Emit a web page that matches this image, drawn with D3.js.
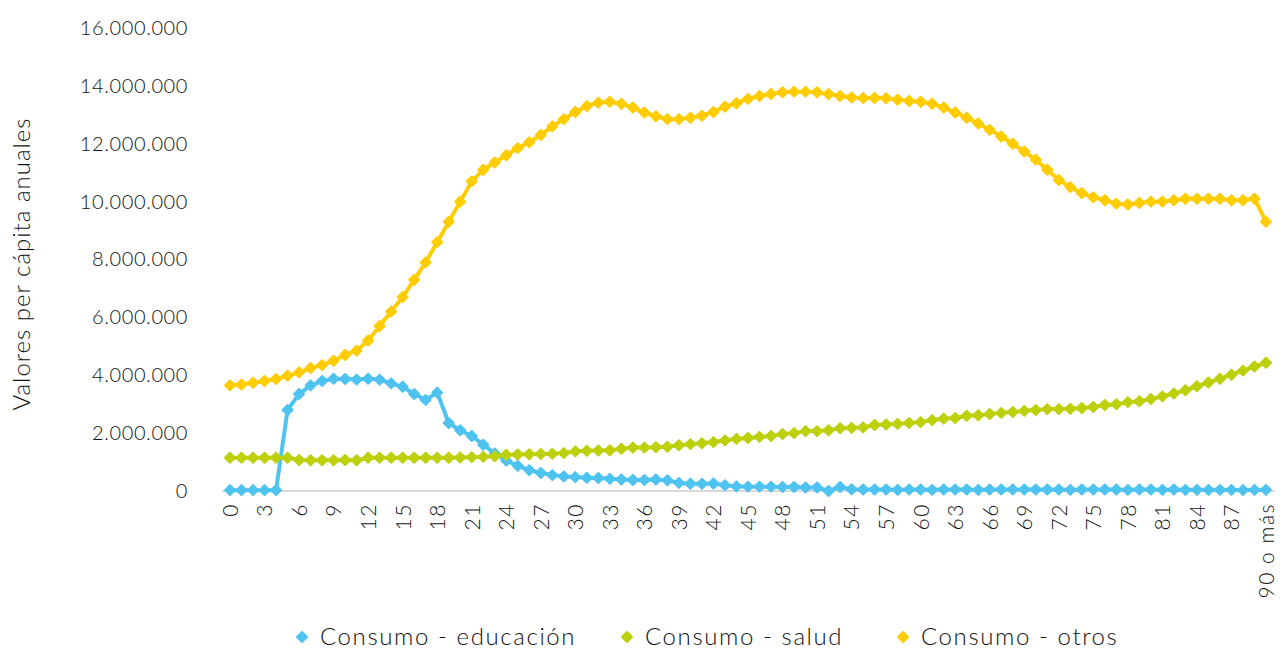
<!DOCTYPE html>
<html lang="es">
<head>
<meta charset="utf-8">
<script src="https://cdn.jsdelivr.net/npm/d3@7"></script>
<style>
  html, body { margin: 0; padding: 0; background: #ffffff; }
  svg { display: block; font-family: "Lato", "Noto Sans", sans-serif; font-weight: 300; }
</style>
</head>
<body>
<svg id="chart" width="1282" height="651"></svg>
<script>
// Edades simples 0..89 y el grupo abierto final
const categories = d3.range(0, 90).map(String).concat(["90 o más"]);

// Consumo per cápita anual por edad (pesos)
const educacion = [
  30000, 30000, 30000, 30000, 30000, 2800000, 3350000, 3650000, 3800000, 3880000,
  3870000, 3850000, 3880000, 3850000, 3720000, 3600000, 3350000, 3150000, 3400000, 2350000,
  2100000, 1900000, 1600000, 1300000, 1050000, 870000, 720000, 620000, 550000, 500000,
  480000, 460000, 450000, 420000, 400000, 380000, 380000, 400000, 370000, 280000,
  250000, 250000, 260000, 200000, 160000, 150000, 150000, 150000, 140000, 140000,
  120000, 120000, 0, 140000, 60000, 50000, 50000, 50000, 40000, 50000,
  50000, 40000, 50000, 50000, 50000, 40000, 50000, 50000, 50000, 50000,
  50000, 50000, 50000, 40000, 50000, 50000, 50000, 50000, 40000, 50000,
  50000, 40000, 50000, 40000, 40000, 40000, 40000, 40000, 30000, 40000,
  40000
];

const salud = [
  1150000, 1150000, 1150000, 1150000, 1150000, 1150000, 1070000, 1060000, 1060000, 1060000,
  1070000, 1060000, 1150000, 1150000, 1150000, 1150000, 1150000, 1150000, 1150000, 1150000,
  1160000, 1170000, 1180000, 1200000, 1250000, 1260000, 1270000, 1280000, 1290000, 1310000,
  1370000, 1390000, 1400000, 1410000, 1460000, 1500000, 1500000, 1510000, 1530000, 1580000,
  1620000, 1650000, 1690000, 1750000, 1800000, 1830000, 1870000, 1900000, 1970000, 2000000,
  2070000, 2070000, 2100000, 2170000, 2180000, 2200000, 2280000, 2300000, 2320000, 2350000,
  2380000, 2450000, 2500000, 2520000, 2600000, 2620000, 2660000, 2700000, 2730000, 2770000,
  2800000, 2830000, 2830000, 2840000, 2870000, 2900000, 2970000, 3000000, 3070000, 3100000,
  3180000, 3270000, 3370000, 3480000, 3620000, 3750000, 3880000, 4020000, 4160000, 4300000,
  4430000
];

const otros = [
  3650000, 3680000, 3740000, 3800000, 3870000, 3980000, 4100000, 4250000, 4350000, 4500000,
  4700000, 4850000, 5200000, 5700000, 6200000, 6700000, 7300000, 7900000, 8600000, 9300000,
  10000000, 10700000, 11100000, 11350000, 11600000, 11850000, 12050000, 12300000, 12600000, 12850000,
  13100000, 13300000, 13420000, 13450000, 13380000, 13250000, 13080000, 12950000, 12850000, 12850000,
  12900000, 12970000, 13100000, 13280000, 13400000, 13550000, 13650000, 13720000, 13780000, 13800000,
  13800000, 13780000, 13720000, 13650000, 13600000, 13580000, 13580000, 13570000, 13520000, 13480000,
  13450000, 13380000, 13250000, 13080000, 12900000, 12700000, 12480000, 12250000, 12000000, 11730000,
  11450000, 11100000, 10750000, 10500000, 10300000, 10150000, 10050000, 9930000, 9900000, 9950000,
  10000000, 10000000, 10050000, 10100000, 10100000, 10100000, 10100000, 10050000, 10050000, 10100000,
  9300000
];

const seriesNames = ["Consumo - educación", "Consumo - salud", "Consumo - otros"];
const seriesColors = ["#4fc3f0", "#bdd00c", "#ffcc00"];
const yTicks = [0, 2000000, 4000000, 6000000, 8000000, 10000000, 12000000, 14000000, 16000000];
const yTitle = "Valores per cápita anuales";

const series = [educacion, salud, otros].map((values, k) => ({
  name: seriesNames[k],
  color: seriesColors[k],
  values
}));

const svg = d3.select("#chart");

const x = d3.scalePoint().domain(categories).range([230, 1266]);
const y = d3.scaleLinear().domain([0, 16000000]).range([491, 28]);

const es = d3.formatLocale({ decimal: ",", thousands: ".", grouping: [3], currency: ["$", ""] });
const fmt = es.format(",.0f");

const labelColor = "#111111";

// Eje Y: solo etiquetas, sin línea ni marcas
const yAxis = svg.append("g")
  .attr("transform", "translate(188,0)")
  .call(d3.axisLeft(y).tickValues(yTicks).tickFormat(fmt).tickSize(0).tickPadding(0));
yAxis.select(".domain").remove();
yAxis.selectAll("text")
  .attr("fill", labelColor)
  .style("font-size", "20px")
  .style("letter-spacing", "0.6px")
  .style("font-family", "Lato, 'Noto Sans', sans-serif")
  .style("font-weight", 300);

// Título del eje Y
svg.append("text")
  .attr("transform", "translate(30,264) rotate(-90)")
  .attr("text-anchor", "middle")
  .attr("fill", labelColor)
  .style("font-size", "24px")
  .style("letter-spacing", "1px")
  .text(yTitle);

// Línea base del eje X
svg.append("line")
  .attr("x1", 222).attr("x2", 1275)
  .attr("y1", y(0)).attr("y2", y(0))
  .attr("stroke", "#d9d9d9")
  .attr("stroke-width", 2);

// Eje X: etiquetas cada 3 años, rotadas
const xAxis = svg.append("g")
  .attr("transform", `translate(0,${y(0)})`)
  .call(d3.axisBottom(x)
    .tickValues(categories.filter((d, i) => i % 3 === 0))
    .tickSize(0));
xAxis.select(".domain").remove();
xAxis.selectAll("text")
  .attr("transform", "rotate(-90)")
  .attr("text-anchor", "end")
  .attr("dy", "0.35em")
  .attr("x", -12)
  .attr("y", 0)
  .attr("fill", labelColor)
  .style("font-size", "21px")
  .style("letter-spacing", "1.5px")
  .style("font-family", "Lato, 'Noto Sans', sans-serif")
  .style("font-weight", 300);

// Series: línea + marcadores en rombo
const line = d3.line()
  .x((d, i) => x(categories[i]))
  .y(d => y(d));

// Rombo cuadrado (cuadrado girado 45°), diagonal ~10px
const marker = "M0,-5L5,0L0,5L-5,0Z";

const g = svg.append("g");
series.forEach(s => {
  const sg = g.append("g");
  sg.append("path")
    .datum(s.values)
    .attr("fill", "none")
    .attr("stroke", s.color)
    .attr("stroke-width", 4)
    .attr("stroke-linejoin", "round")
    .attr("d", line);
  sg.selectAll("path.mk")
    .data(s.values)
    .join("path")
    .attr("class", "mk")
    .attr("transform", (d, i) => `translate(${x(categories[i])},${y(d)})`)
    .attr("d", marker)
    .attr("fill", s.color)
    .attr("stroke", s.color)
    .attr("stroke-width", 2)
    .attr("stroke-linejoin", "round");
});

// Leyenda
const legendX = [302, 627, 903];
const legend = svg.append("g");
series.forEach((s, k) => {
  const lg = legend.append("g").attr("transform", `translate(${legendX[k]},637)`);
  lg.append("path")
    .attr("d", marker)
    .attr("fill", s.color)
    .attr("stroke", s.color)
    .attr("stroke-width", 2)
    .attr("stroke-linejoin", "round");
  lg.append("text")
    .attr("x", 18)
    .attr("dy", "0.35em")
    .attr("fill", labelColor)
    .style("font-size", "24px")
    .style("letter-spacing", "1.6px")
    .text(s.name);
});
</script>
</body>
</html>
